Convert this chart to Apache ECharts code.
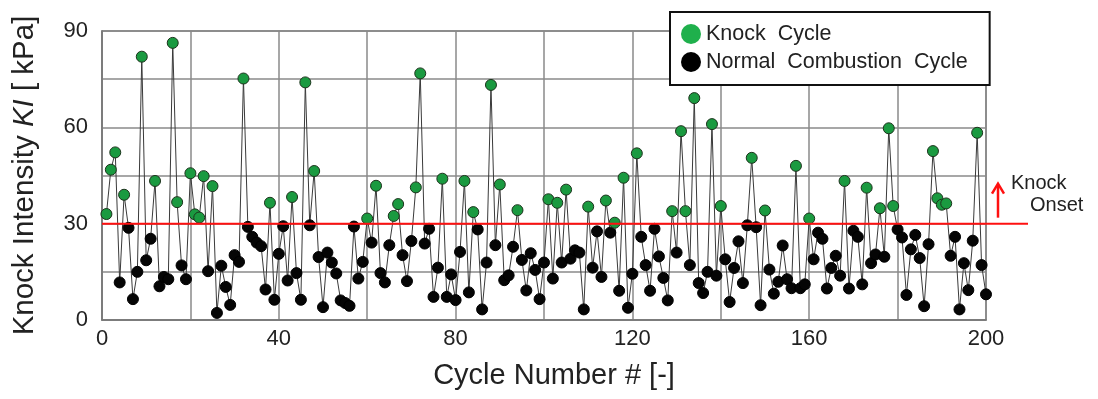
<!DOCTYPE html>
<html>
<head>
<meta charset="utf-8">
<script src="https://cdn.jsdelivr.net/npm/echarts@6/dist/echarts.min.js"></script>
<style>
  html, body { margin: 0; padding: 0; background: #fff; }
  #main { width: 1098px; height: 399px; }
</style>
</head>
<body>
<div id="main"></div>
<script>
// knock intensity per cycle, cycles 1..200 (kPa)
var cycles = [];
for (var c = 1; c <= 200; c++) cycles.push(c);
var intensity = [
  33, 46.8, 52.2, 11.7, 39, 28.7, 6.5, 15, 82, 18.6,
  25.3, 43.3, 10.5, 13.4, 12.7, 86.3, 36.7, 17, 12.7, 45.7,
  32.9, 31.9, 44.8, 15.2, 41.7, 2.2, 16.9, 10.3, 4.7, 20.2,
  18.1, 75.2, 29, 25.9, 24.1, 23, 9.5, 36.5, 6.3, 20.6,
  29.2, 12.3, 38.3, 14.6, 6.3, 74, 29.5, 46.4, 19.6, 4,
  21, 17.9, 14.5, 6.1, 5.3, 4.4, 29.1, 12.9, 18.1, 31.6,
  24.1, 41.8, 14.6, 11.7, 23.3, 32.4, 36.1, 20.2, 12.1, 24.6,
  41.3, 76.8, 23.8, 28.4, 7.2, 16.3, 44, 7.2, 14.2, 6.2,
  21.2, 43.3, 8.6, 33.6, 28.2, 3.3, 17.9, 73.2, 23.3, 42.2,
  12.4, 13.9, 22.8, 34.2, 18.7, 9.2, 20.8, 15.6, 6.5, 17.9,
  37.6, 12.9, 36.5, 17.9, 40.6, 19.1, 21.7, 21, 3.3, 35.3,
  16.3, 27.6, 13.4, 37.2, 27.2, 30.3, 9.1, 44.3, 3.8, 14.4,
  51.9, 25.9, 17.1, 9.1, 28.4, 19.8, 13.1, 6.1, 33.9, 21,
  58.8, 33.9, 17.1, 69.1, 11.5, 8.4, 15, 61, 13.8, 35.5,
  18.9, 5.6, 16.2, 24.5, 11.5, 29.5, 50.5, 28.9, 4.6, 34.1,
  15.7, 8.2, 11.9, 23.2, 12.7, 9.9, 48, 9.9, 11.1, 31.6,
  18.9, 27.2, 25.3, 9.8, 16.2, 20, 13.8, 43.3, 9.8, 27.8,
  25.9, 11.1, 41.2, 17.7, 20.4, 34.8, 19.7, 59.7, 35.5, 28.2,
  25.7, 7.8, 22, 26.5, 19.3, 4.3, 23.6, 52.6, 37.9, 35.9,
  36.3, 20, 25.9, 3.3, 17.7, 9.3, 24.7, 58.3, 17.1, 8
];
var onset = 30;

var myChart = echarts.init(document.getElementById('main'));

var allPts = [], knockPts = [], normalPts = [];
intensity.forEach(function (v, i) {
    allPts.push([cycles[i], v]);
    if (v > onset) knockPts.push([cycles[i], v]);
    else normalPts.push([cycles[i], v]);
});

var gridColor = '#8a8a8a';
var textColor = '#222';
var font = 'Liberation Sans, Arial';

var option = {
    backgroundColor: '#fff',
    animation: false,
    grid: {
        left: 102, right: 112, top: 31, bottom: 79,
        show: true, borderColor: '#777', borderWidth: 1.5
    },
    legend: {
        left: 670, top: 12,
        orient: 'vertical',
        padding: [11, 22, 12, 11],
        itemGap: 6,
        itemWidth: 20, itemHeight: 20,
        backgroundColor: '#fff',
        borderColor: '#111', borderWidth: 2,
        textStyle: { fontFamily: font, fontSize: 21.5, color: textColor },
        data: [
            { name: 'Knock  Cycle', icon: 'circle', itemStyle: { color: '#1fb04c', borderWidth: 0 } },
            { name: 'Normal  Combustion  Cycle', icon: 'circle', itemStyle: { color: '#000', borderWidth: 0 } }
        ]
    },
    xAxis: {
        type: 'value', min: 0, max: 200, interval: 20,
        name: 'Cycle Number # [-]',
        nameLocation: 'middle', nameGap: 41,
        nameTextStyle: { fontFamily: font, fontSize: 29, color: textColor, padding: [0, 0, 0, 20] },
        axisLine: { show: true, lineStyle: { color: '#777', width: 1.5 } },
        axisTick: { show: false },
        axisLabel: {
            margin: 8, fontFamily: font, fontSize: 22, color: textColor,
            formatter: function (v) { return v % 40 === 0 ? v : ''; }
        },
        splitLine: { show: true, lineStyle: { color: gridColor, width: 1.5 } }
    },
    yAxis: {
        type: 'value', min: 0, max: 90, interval: 15,
        name: 'Knock Intensity {i|KI} [ kPa]',
        nameLocation: 'middle', nameGap: 62,
        nameTextStyle: {
            fontFamily: font, fontSize: 29.5, color: textColor,
            rich: { i: { fontStyle: 'italic', fontFamily: font, fontSize: 29.5, color: textColor } }
        },
        axisLine: { show: true, lineStyle: { color: '#777', width: 1.5 } },
        axisTick: { show: false },
        axisLabel: {
            margin: 14, fontFamily: font, fontSize: 22, color: textColor,
            formatter: function (v) { return v % 30 === 0 ? v : ''; }
        },
        splitLine: { show: true, lineStyle: { color: gridColor, width: 1.5 } }
    },
    series: [
        {
            type: 'line', data: allPts, showSymbol: false, silent: true,
            lineStyle: { color: '#3a3a3a', width: 1 }, z: 2
        },
        {
            name: 'Knock  Cycle', type: 'scatter', data: knockPts, symbolSize: 11,
            itemStyle: { color: '#1a9a40', borderColor: '#1c331c', borderWidth: 1, opacity: 1 }, z: 4
        },
        {
            name: 'Normal  Combustion  Cycle', type: 'scatter', data: normalPts, symbolSize: 11,
            itemStyle: { color: '#050505', borderColor: '#000', borderWidth: 1, opacity: 1 }, z: 3
        }
    ]
};
myChart.setOption(option);

// knock onset threshold line, extends past the plot frame, plus arrow and label
var p0 = myChart.convertToPixel({ gridIndex: 0 }, [0, onset]);
myChart.setOption({
    graphic: [
        { type: 'line', z: 10, shape: { x1: p0[0], y1: p0[1], x2: 1028, y2: p0[1] },
          style: { stroke: '#ff1010', lineWidth: 2 } },
        { type: 'line', z: 10, shape: { x1: 998, y1: p0[1] - 6, x2: 998, y2: p0[1] - 38 },
          style: { stroke: '#ff1010', lineWidth: 2.5 } },
        { type: 'polyline', z: 10, shape: { points: [[992, p0[1] - 30], [998, p0[1] - 40], [1004, p0[1] - 30]] },
          style: { stroke: '#ff1010', lineWidth: 2.5, fill: null } },
        { type: 'text', z: 10, left: 1011, top: 173,
          style: { text: 'Knock', fontFamily: font, fontSize: 20, fill: textColor } },
        { type: 'text', z: 10, left: 1030, top: 195,
          style: { text: 'Onset', fontFamily: font, fontSize: 20, fill: textColor } }
    ]
});
</script>
</body>
</html>
